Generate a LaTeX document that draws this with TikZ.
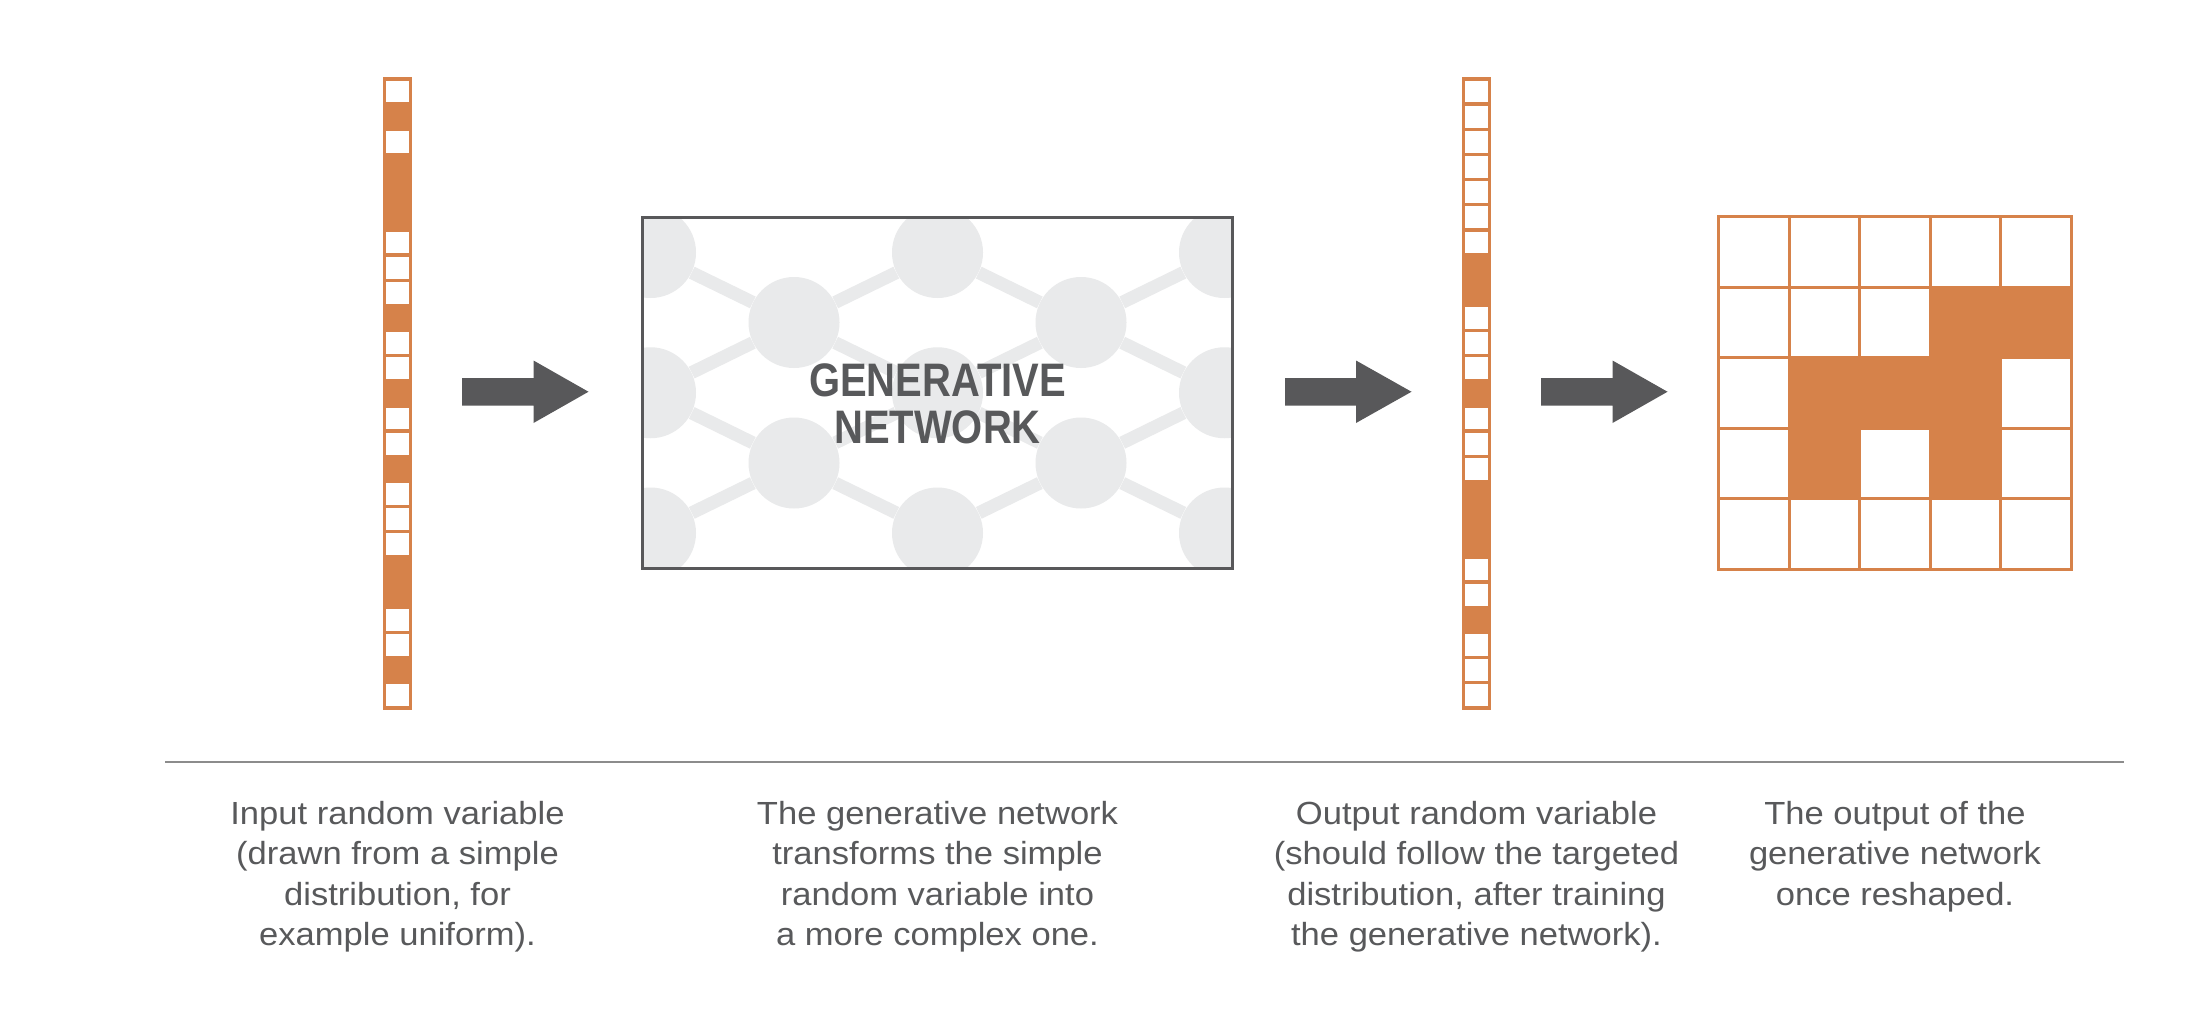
\documentclass[tikz,border=0pt]{standalone}
\usepackage{fontspec}
\setmainfont{Liberation Sans}
\newfontfamily\capfont{Liberation Sans}[FakeStretch=1.08]
\newfontfamily\titlefont{Liberation Sans}[FakeStretch=0.85]
\usetikzlibrary{calc}
\definecolor{vorange}{HTML}{D6824A}
\definecolor{darkg}{HTML}{58585A}
\definecolor{netg}{HTML}{E9EAEB}
\definecolor{rulec}{HTML}{8C8C8C}
\definecolor{textc}{HTML}{58595B}
\newcommand\blockarrow[3]{%
  \fill[darkg] ($(#1)+(0,13.75)$) -- ($(#2)+(0,13.75)$) -- ($(#2)+(0,31.25)$) -- (#3)
    -- ($(#2)+(0,-31.25)$) -- ($(#2)+(0,-13.75)$) -- ($(#1)+(0,-13.75)$) -- cycle;}
\begin{document}
\begin{tikzpicture}[x=0.5pt,y=-0.5pt,
  cellst/.style={draw=vorange, line width=1.65pt},
  netnode/.style={circle, fill=netg, inner sep=0pt, minimum size=45.5pt},
  netedge/.style={draw=netg, line width=6.5pt},
  caption/.style={anchor=north, inner sep=0pt, align=center, text=textc,
    font=\capfont\fontsize{16pt}{20.25pt}\selectfont},
  holder/.style={inner sep=0pt, draw=none}]
\useasboundingbox[fill=white] (0,0) rectangle (2188,1012);

% ---------- input vector ----------
\node[holder, minimum width=12.7pt, minimum height=314.5pt] (invec) at (397.5,393.4) {};
\foreach \v [count=\i from 0] in {0,1,0,1,1,1,0,0,0,1,0,0,1,0,0,1,0,0,0,1,1,0,0,1,0}{
  \ifnum\v=1 \def\fc{vorange}\else\def\fc{white}\fi
  \draw[cellst, fill=\fc] (384.8,{78.9+25.16*\i}) rectangle ++(25.4,25.16);
}

% ---------- output vector ----------
\node[holder, minimum width=12.7pt, minimum height=314.5pt] (outvec) at (1476.5,393.4) {};
\foreach \v [count=\i from 0] in {0,0,0,0,0,0,0,1,1,0,0,0,1,0,0,0,1,1,1,0,0,1,0,0,0}{
  \ifnum\v=1 \def\fc{vorange}\else\def\fc{white}\fi
  \draw[cellst, fill=\fc] (1463.8,{78.9+25.16*\i}) rectangle ++(25.4,25.16);
}

% ---------- reshaped grid ----------
\node[holder, minimum width=176.25pt, minimum height=176.25pt] (grid) at (1895,393) {};
\foreach \row [count=\r from 0] in {{0,0,0,0,0},{0,0,0,1,1},{0,1,1,1,0},{0,1,0,1,0},{0,0,0,0,0}}{
  \foreach \v [count=\c from 0] in \row {
    \ifnum\v=1 \def\fc{vorange}\else\def\fc{white}\fi
    \draw[cellst, fill=\fc] ({1718.75+70.5*\c},{216.75+70.5*\r}) rectangle ++(70.5,70.5);
  }
}

% ---------- generative network ----------
\begin{scope}
  \clip (642.5,217.5) rectangle (1232.5,568);
  \foreach \n/\x/\y in {A1/650.5/252.5, A3/650.5/392.75, A5/650.5/533,
      B2/794/322.5, B4/794/463,
      C1/937.5/252.5, C3/937.5/392.75, C5/937.5/533,
      D2/1081/322.5, D4/1081/463,
      E1/1224.5/252.5, E3/1224.5/392.75, E5/1224.5/533}
    \node[netnode] (\n) at (\x,\y) {};
  \foreach \a/\b in {A1/B2, B2/C1, C1/D2, D2/E1, A3/B2, B2/C3, C3/D2, D2/E3,
      A3/B4, B4/C3, C3/D4, D4/E3, A5/B4, B4/C5, C5/D4, D4/E5}
    \draw[netedge] (\a) -- (\b);
\end{scope}
\node[draw=darkg, line width=1.5pt, inner sep=0pt, minimum width=295pt,
  minimum height=175.25pt] (net) at (937.5,392.75) {};
\node[anchor=north, inner sep=0pt, align=center, text=textc,
  font=\titlefont\bfseries\fontsize{23.5pt}{23.75pt}\selectfont]
  (title) at (937.5,362.75) {\strut GENERATIVE\\NETWORK};

% ---------- arrows ----------
\coordinate (a1s) at (462,391.75);  \coordinate (a1m) at (533.5,391.75);  \coordinate (a1e) at (588.5,391.75);
\coordinate (a2s) at (1285,391.75); \coordinate (a2m) at (1356,391.75);   \coordinate (a2e) at (1411.5,391.75);
\coordinate (a3s) at (1541,391.75); \coordinate (a3m) at (1612.5,391.75); \coordinate (a3e) at (1667.5,391.75);
\blockarrow{a1s}{a1m}{a1e}
\blockarrow{a2s}{a2m}{a2e}
\blockarrow{a3s}{a3m}{a3e}

% ---------- rule ----------
\coordinate (rl) at (165,761.7);
\coordinate (rr) at (2124,761.7);
\draw[rulec, line width=0.85pt] (rl) -- (rr);

% ---------- captions ----------
\node[caption] (cap1) at (397.5,795.65) {\strut Input random variable\\(drawn from a simple\\distribution, for\\example uniform).};
\node[caption] (cap2) at (937.5,795.65) {\strut The generative network\\transforms the simple\\random variable into\\a more complex one.};
\node[caption] (cap3) at (1476.5,795.65) {\strut Output random variable\\(should follow the targeted\\distribution, after training\\the generative network).};
\node[caption] (cap4) at (1895,795.65) {\strut The output of the\\generative network\\once reshaped.};
\end{tikzpicture}
\end{document}
